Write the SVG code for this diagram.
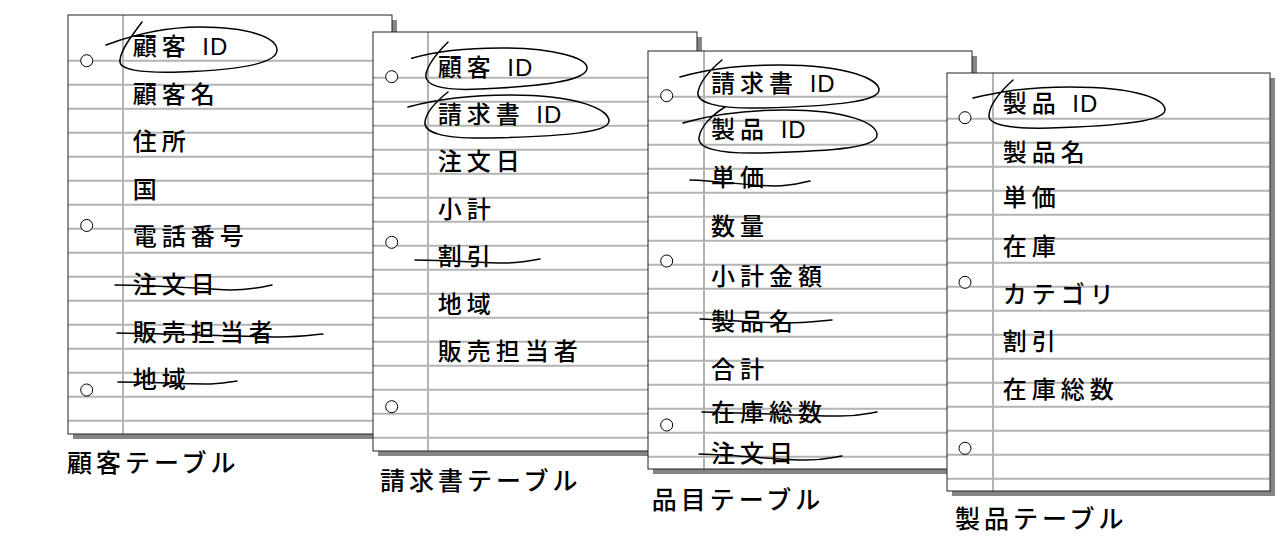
<svg xmlns="http://www.w3.org/2000/svg" xmlns:xlink="http://www.w3.org/1999/xlink" width="1282" height="540" viewBox="0 0 1282 540">
<defs>
<style>
.shadow{fill:#858585}
.paper{fill:#fff}
.border{fill:none;stroke:#222;stroke-width:1}
.rule{stroke:#b4b4b4;stroke-width:2;fill:none}
.hole{fill:#fff;stroke:#000;stroke-width:1}
.t{font-family:"Liberation Sans","Noto Sans CJK JP",sans-serif;font-size:24px;font-weight:500;letter-spacing:5px;fill:#000}
.id{letter-spacing:1px}
.lbl{font-size:25px;letter-spacing:4px}
.mark{fill:none;stroke:#000;stroke-width:1.5;stroke-linecap:round;stroke-linejoin:round}
</style>
<path id="rules" d="M0,45.7H324M0,69.7H324M0,93.7H324M0,117.7H324M0,141.7H324M0,165.7H324M0,189.7H324M0,213.7H324M0,237.7H324M0,261.7H324M0,285.7H324M0,309.7H324M0,333.7H324M0,357.7H324M0,381.7H324M0,405.7H324"/>
</defs>
<rect width="1282" height="540" fill="#fff"/>

<g id="customer-table">
<rect class="shadow" x="73" y="20" width="324" height="419"/>
<rect class="paper" x="68" y="15" width="324" height="419"/>
<use xlink:href="#rules" href="#rules" x="68" y="15" class="rule"/>
<line class="rule" x1="123" y1="15" x2="123" y2="434"/>
<rect class="border" x="68" y="15" width="324" height="419"/>
<circle class="hole" cx="86.7" cy="60.7" r="6"/>
<circle class="hole" cx="86.7" cy="225.5" r="6"/>
<circle class="hole" cx="86.7" cy="390" r="6"/>
<text class="t" x="132.7" y="55">顧客 <tspan class="id">ID</tspan></text>
<text class="t" x="132.7" y="102.6">顧客名</text>
<text class="t" x="132.7" y="150.2">住所</text>
<text class="t" x="132.7" y="197.8">国</text>
<text class="t" x="132.7" y="245.4">電話番号</text>
<text class="t" x="132.7" y="293">注文日</text>
<text class="t" x="132.7" y="340.6">販売担当者</text>
<text class="t" x="132.7" y="388.2">地域</text>
<path class="mark" d="M106,45 C130,36 160,27 200,27 C250,27 277,38 277,50 C277,63 240,70 180,72 C140,73 118,70 120,60 C121,50 130,38 142,22"/>
<path class="mark" d="M115,285 C160,285 200,289 230,290 C250,290 262,287 272,285"/>
<path class="mark" d="M117,333 C180,334 250,337 280,337 C300,337 312,335 323,334"/>
<path class="mark" d="M118,382 C150,382 180,384 205,384 C220,384 228,382 237,381"/>
<text class="t lbl" x="67" y="471.5">顧客テーブル</text>
</g>

<g id="invoice-table">
<rect class="shadow" x="378" y="37" width="324" height="419"/>
<rect class="paper" x="373" y="32" width="324" height="419"/>
<use xlink:href="#rules" href="#rules" x="373" y="32" class="rule"/>
<line class="rule" x1="428" y1="32" x2="428" y2="451"/>
<rect class="border" x="373" y="32" width="324" height="419"/>
<circle class="hole" cx="391.7" cy="76.7" r="6"/>
<circle class="hole" cx="391.7" cy="242.3" r="6"/>
<circle class="hole" cx="391.7" cy="406.7" r="6"/>
<text class="t" x="437.7" y="75.5">顧客 <tspan class="id">ID</tspan></text>
<text class="t" x="437.7" y="122.9">請求書 <tspan class="id">ID</tspan></text>
<text class="t" x="437.7" y="170.3">注文日</text>
<text class="t" x="437.7" y="217.7">小計</text>
<text class="t" x="437.7" y="265.1">割引</text>
<text class="t" x="437.7" y="312.5">地域</text>
<text class="t" x="437.7" y="359.9">販売担当者</text>
<path class="mark" d="M411.7,58.3 C430,53 460,48 500,48 C555,48 587,58 587,68 C587,80 550,86 480,89 C440,91 424,85 426,74 C428,64 438,52 448,42"/>
<path class="mark" d="M408,107 C430,101 460,95 510,95 C580,95 609,110 609,121 C609,132 570,136 490,138 C440,139 424,132 425,122 C426,112 438,100 448,92"/>
<path class="mark" d="M415,260 C450,260 480,263 505,263 C520,263 530,261 540,259"/>
<text class="t lbl" x="380" y="490">請求書テーブル</text>
</g>

<g id="line-item-table">
<rect class="shadow" x="653" y="56" width="324" height="418"/>
<rect class="paper" x="648" y="51" width="324" height="418"/>
<use xlink:href="#rules" href="#rules" x="648" y="51" class="rule"/>
<line class="rule" x1="704" y1="51" x2="704" y2="469"/>
<rect class="border" x="648" y="51" width="324" height="418"/>
<circle class="hole" cx="666.7" cy="95.7" r="6"/>
<circle class="hole" cx="666.7" cy="261" r="6"/>
<circle class="hole" cx="666.7" cy="425" r="6"/>
<text class="t" x="711" y="91.5">請求書 <tspan class="id">ID</tspan></text>
<text class="t" x="711" y="138">製品 <tspan class="id">ID</tspan></text>
<text class="t" x="711" y="186">単価</text>
<text class="t" x="711" y="235">数量</text>
<text class="t" x="711" y="285">小計金額</text>
<text class="t" x="711" y="330">製品名</text>
<text class="t" x="711" y="378">合計</text>
<text class="t" x="711" y="421">在庫総数</text>
<text class="t" x="711" y="461.5">注文日</text>
<path class="mark" d="M680,77 C700,71 730,65 780,65 C850,65 879,80 879,90 C879,101 840,106 760,108 C715,109 696,102 698,92 C700,82 710,70 722,60"/>
<path class="mark" d="M683,123 C705,117 735,110 785,110 C850,110 877,124 877,135 C877,147 840,151 760,153 C718,154 698,148 699,138 C700,127 712,115 725,107"/>
<path class="mark" d="M690,180 C720,181 750,186 775,186 C790,186 800,183 810,181"/>
<path class="mark" d="M700,319 C730,320 760,323 785,323 C805,323 820,321 832,320"/>
<path class="mark" d="M702,412 C760,413 810,416 840,416 C860,416 870,413 877,412"/>
<path class="mark" d="M699,454 C740,455 780,460 805,460 C825,460 835,457 842,456"/>
<text class="t lbl" x="651.7" y="508.5">品目テーブル</text>
</g>

<g id="product-table">
<rect class="shadow" x="952" y="78" width="323" height="418"/>
<rect class="paper" x="947" y="73" width="323" height="418"/>
<use xlink:href="#rules" href="#rules" x="947" y="73" class="rule"/>
<line class="rule" x1="993" y1="73" x2="993" y2="491"/>
<rect class="border" x="947" y="73" width="323" height="418"/>
<circle class="hole" cx="965" cy="117.7" r="6"/>
<circle class="hole" cx="965" cy="282.3" r="6"/>
<circle class="hole" cx="965" cy="448.3" r="6"/>
<text class="t" x="1002.7" y="112">製品 <tspan class="id">ID</tspan></text>
<text class="t" x="1002.7" y="160.5">製品名</text>
<text class="t" x="1002.7" y="206">単価</text>
<text class="t" x="1002.7" y="255">在庫</text>
<text class="t" x="1002.7" y="303">カテゴリ</text>
<text class="t" x="1002.7" y="350">割引</text>
<text class="t" x="1002.7" y="398">在庫総数</text>
<path class="mark" d="M973,98 C990,94 1020,87 1070,87 C1140,87 1165,100 1165,110 C1165,121 1120,126 1050,128 C1005,129 988,124 989,115 C990,104 1002,90 1013,80"/>
<text class="t lbl" x="955" y="528">製品テーブル</text>
</g>

<g id="connectors"/>
</svg>
